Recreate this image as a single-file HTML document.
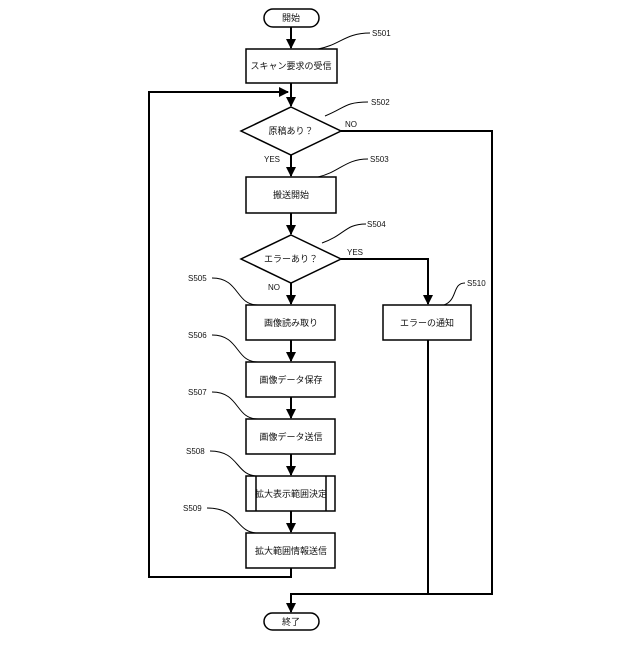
<!DOCTYPE html><html><head><meta charset="utf-8"><style>body{margin:0;background:#fff}svg text{font-family:"Liberation Sans","Noto Sans CJK JP",sans-serif;fill:#111}</style></head><body>
<svg width="640" height="640" viewBox="0 0 640 640" xmlns="http://www.w3.org/2000/svg">
<defs><marker id="a" markerWidth="10" markerHeight="10" refX="9" refY="5" orient="auto" markerUnits="userSpaceOnUse"><path d="M0,0 L10,5 L0,10z" fill="#000"/></marker></defs>
<g fill="none" stroke="#000" stroke-width="2">
<line x1="291" y1="27" x2="291" y2="48" marker-end="url(#a)"/>
<line x1="291" y1="83" x2="291" y2="106" marker-end="url(#a)"/>
<polyline points="291,568 291,577 149,577 149,92 288,92" marker-end="url(#a)"/>
<line x1="291" y1="155" x2="291" y2="176" marker-end="url(#a)"/>
<line x1="291" y1="213" x2="291" y2="234" marker-end="url(#a)"/>
<line x1="291" y1="283" x2="291" y2="304" marker-end="url(#a)"/>
<line x1="291" y1="340" x2="291" y2="361" marker-end="url(#a)"/>
<line x1="291" y1="397" x2="291" y2="418" marker-end="url(#a)"/>
<line x1="291" y1="454" x2="291" y2="475" marker-end="url(#a)"/>
<line x1="291" y1="511" x2="291" y2="532" marker-end="url(#a)"/>
<polyline points="341,131 492,131 492,594 291,594 291,612" marker-end="url(#a)"/>
<polyline points="341,259 428,259 428,304" marker-end="url(#a)"/>
<line x1="428" y1="340" x2="428" y2="594"/>
</g>
<g fill="#fff" stroke="#000" stroke-width="1.5">
<rect x="264" y="9" width="55" height="18" rx="9"/>
<rect x="264" y="613" width="55" height="17" rx="8.5"/>
<rect x="246" y="49" width="91" height="34"/>
<polygon points="291,107 341,131 291,155 241,131"/>
<rect x="246" y="177" width="90" height="36"/>
<polygon points="291,235 341,259 291,283 241,259"/>
<rect x="246" y="305" width="89" height="35"/>
<rect x="383" y="305" width="88" height="35"/>
<rect x="246" y="362" width="89" height="35"/>
<rect x="246" y="419" width="89" height="35"/>
<rect x="246" y="476" width="89" height="35"/>
<line x1="256" y1="476" x2="256" y2="511"/><line x1="326" y1="476" x2="326" y2="511"/>
<rect x="246" y="533" width="89" height="35"/>
</g>
<g fill="none" stroke="#000" stroke-width="1">
<path d="M318,49 C340,45 345,33 370,33"/>
<path d="M325,116 C345,108 345,102 368,102"/>
<path d="M318,177 C340,172 345,159 368,159"/>
<path d="M322,243 C345,235 345,224 366,224"/>
<path d="M444,305 C458,300 452,283 465,283"/>
<path d="M212,278 C240,278 235,305 258,305"/>
<path d="M212,335 C240,335 235,362 258,362"/>
<path d="M212,392 C240,392 235,419 258,419"/>
<path d="M210,451 C240,451 235,476 258,476"/>
<path d="M207,508 C240,508 235,533 258,533"/>
</g>
<g font-size="9" text-anchor="middle">
<text x="291" y="21">開始</text>
<text x="291" y="69">スキャン要求の受信</text>
<text x="291" y="134">原稿あり？</text>
<text x="291" y="198">搬送開始</text>
<text x="291" y="262">エラーあり？</text>
<text x="291" y="326">画像読み取り</text>
<text x="427" y="326">エラーの通知</text>
<text x="291" y="383">画像データ保存</text>
<text x="291" y="440">画像データ送信</text>
<text x="291" y="497">拡大表示範囲決定</text>
<text x="291" y="554">拡大範囲情報送信</text>
<text x="291" y="625">終了</text>
</g>
<g font-size="8">
<text x="372" y="36">S501</text><text x="371" y="105">S502</text><text x="370" y="162">S503</text><text x="367" y="227">S504</text><text x="467" y="286">S510</text>
<text x="188" y="281">S505</text><text x="188" y="338">S506</text><text x="188" y="395">S507</text><text x="186" y="454">S508</text><text x="183" y="511">S509</text>
<text x="345" y="127">NO</text><text x="264" y="162">YES</text><text x="347" y="255">YES</text><text x="268" y="290">NO</text>
</g>
</svg></body></html>
